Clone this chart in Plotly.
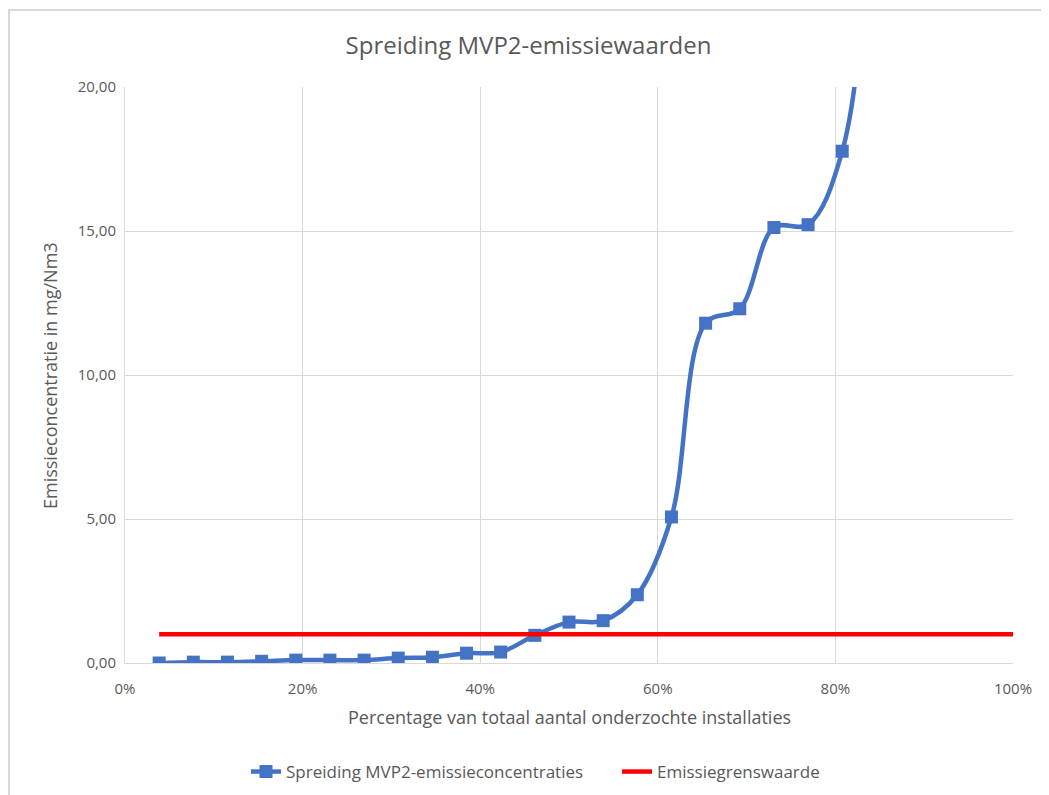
import plotly.graph_objects as go

n_install = 26
pct = [i / n_install for i in range(1, n_install + 1)]
emissions = [0.00, 0.03, 0.03, 0.06, 0.10, 0.10, 0.10, 0.17, 0.20, 0.34, 0.38,
             0.96, 1.42, 1.47, 2.37, 5.07, 11.80, 12.30, 15.12, 15.22, 17.77,
             28.0, 40.0, 60.0, 90.0, 150.0]
limit_x = [pct[0], 1.0]
limit_y = [1.0, 1.0]

title = "Spreiding MVP2-emissiewaarden"
x_title = "Percentage van totaal aantal onderzochte installaties"
y_title = "Emissieconcentratie in mg/Nm3"
series_name = "Spreiding MVP2-emissieconcentraties"
limit_name = "Emissiegrenswaarde"

font_family = "Open Sans, Noto Sans, sans-serif"
grey = "#595959"

fig = go.Figure()
fig.add_trace(go.Scatter(
    x=pct, y=emissions, name=series_name, mode="lines+markers",
    line=dict(color="#4472C4", width=4.5, shape="spline", smoothing=1.0),
    marker=dict(symbol="square", size=13, color="#4472C4"),
))
fig.add_trace(go.Scatter(
    x=limit_x, y=limit_y, name=limit_name, mode="lines",
    line=dict(color="#FF0000", width=4.5),
))

# page body adds an 8px offset; figure fills the rest of the window
OFF = 8
W, H = 1049 - OFF, 795 - OFF
ml, mr, mt, mb = 125 - OFF, 36, 87 - OFF, 132
pw, ph = W - ml - mr, H - mt - mb

def px2paper_x(px):
    return (px - OFF - ml) / pw

def px2paper_y(py):
    return (H - mb - (py - OFF)) / ph

fig.add_shape(type="rect", xref="paper", yref="paper",
              x0=px2paper_x(9), x1=px2paper_x(1080),
              y0=px2paper_y(840), y1=px2paper_y(10),
              line=dict(color="#d9d9d9", width=2), layer="below")

fig.add_annotation(text=x_title, xref="paper", yref="paper",
                   x=0.5, y=px2paper_y(717), xanchor="center", yanchor="middle",
                   showarrow=False, font=dict(size=18, color=grey, family=font_family))
fig.add_annotation(text=y_title, xref="paper", yref="paper", textangle=-90,
                   x=px2paper_x(50), y=px2paper_y(376), xanchor="center", yanchor="middle",
                   showarrow=False, font=dict(size=18, color=grey, family=font_family))

fig.update_layout(
    width=W, height=H,
    margin=dict(l=ml, r=mr, t=mt, b=mb, autoexpand=False),
    paper_bgcolor="white", plot_bgcolor="white",
    separators=",.",
    font=dict(family=font_family, color=grey, size=15),
    title=dict(text=title, x=0.5, xanchor="center", y=1 - (46 - OFF) / H, yanchor="middle",
               font=dict(size=24, color=grey, family=font_family)),
    showlegend=True,
    legend=dict(orientation="h", x=px2paper_x(246), xanchor="left", y=px2paper_y(772), yanchor="middle",
                font=dict(size=17, color=grey), traceorder="normal",
                entrywidth=326, entrywidthmode="pixels"),
    xaxis=dict(range=[0, 1], tickformat=".0%", dtick=0.2, tick0=0,
               showgrid=True, gridcolor="#d9d9d9", gridwidth=1,
               showline=True, linecolor="#d9d9d9", linewidth=1, zeroline=False,
               ticks="", ticklabelstandoff=12, tickfont=dict(size=15, color=grey)),
    yaxis=dict(range=[0, 20], tickformat=".2f", dtick=5, tick0=0,
               showgrid=True, gridcolor="#d9d9d9", gridwidth=1,
               showline=True, linecolor="#d9d9d9", linewidth=1, zeroline=False,
               ticks="", ticklabelstandoff=5, tickfont=dict(size=15, color=grey)),
)

fig.write_html("out.html")
